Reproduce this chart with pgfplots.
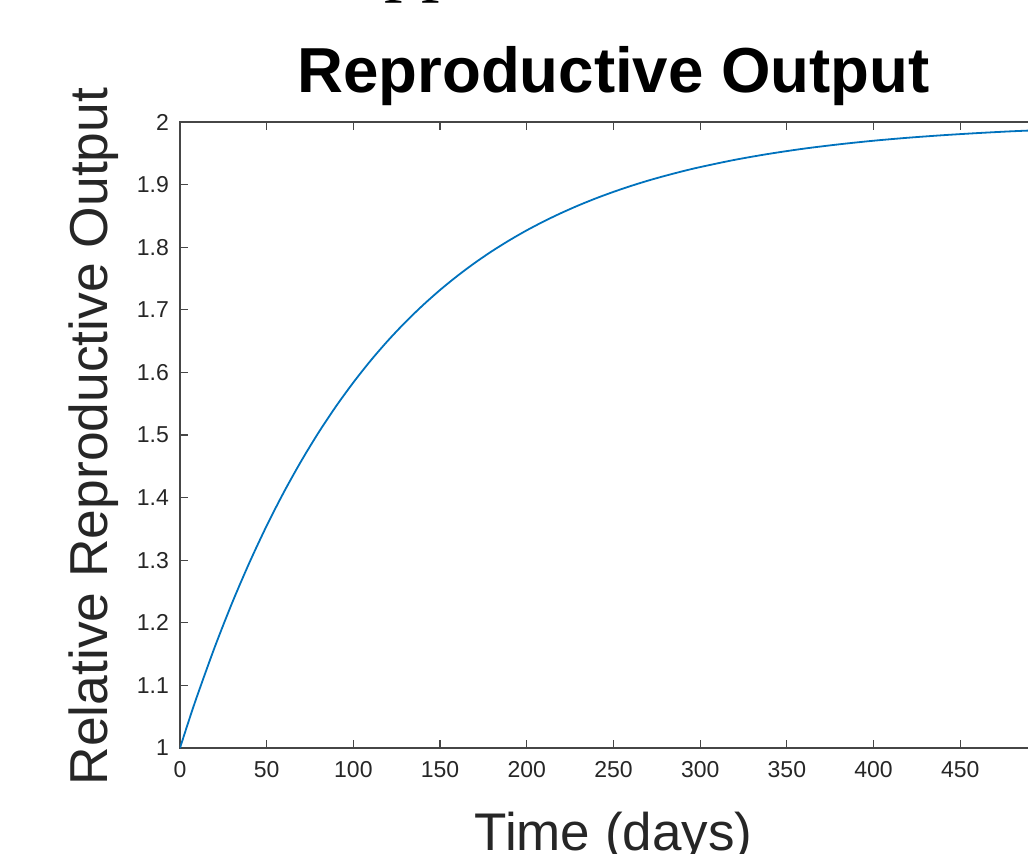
\documentclass[border=0pt]{standalone}
\usepackage{pgfplots}
\pgfplotsset{compat=1.18}
\usepackage{fontspec}
\setmainfont{Liberation Sans}
\newfontfamily\serifpart{Liberation Serif}
\definecolor{mblue}{RGB}{0,114,189}
\definecolor{mgray}{RGB}{38,38,38}
\definecolor{axgray}{RGB}{70,70,70}
\begin{document}
\begin{tikzpicture}
\useasboundingbox (-90pt,-52.5pt) rectangle (424pt,374pt);
\clip (-90pt,-52.5pt) rectangle (424pt,374pt);
\begin{axis}[
  at={(0pt,0pt)}, anchor=south west,
  scale only axis, width=433.5pt, height=313pt,
  xmin=0, xmax=500, ymin=1, ymax=2,
  xtick={0,50,100,150,200,250,300,350,400,450,500},
  ytick={1,1.1,1.2,1.3,1.4,1.5,1.6,1.7,1.8,1.9,2},
  /pgf/number format/assume math mode=true,
  yticklabel style={/pgf/number format/fixed, /pgf/number format/precision=1, xshift=-2pt},
  xticklabel style={yshift=-3pt},
  ticklabel style={font=\fontsize{11.5}{13}\selectfont, text=mgray},
  tick align=inside,
  major tick length=4pt,
  tick style={color=axgray, line width=0.6pt},
  axis line style={color=axgray, line width=0.6pt},
  axis on top=false,
]
\addplot[color=mblue, line width=0.9pt, smooth] coordinates {
(0,1.0000) (5,1.0429) (10,1.0840) (20,1.1609) (30,1.2314) (40,1.2959)
(50,1.3551) (60,1.4092) (70,1.4588) (80,1.5043) (90,1.5459)
(100,1.5840) (110,1.6190) (120,1.6510) (130,1.6803) (140,1.7071)
(150,1.7317) (160,1.7542) (170,1.7749) (180,1.7938) (190,1.8111)
(200,1.8270) (210,1.8415) (220,1.8548) (230,1.8670) (240,1.8782)
(250,1.8884) (260,1.8978) (270,1.9064) (280,1.9142) (290,1.9214)
(300,1.9280) (320,1.9396) (340,1.9493) (360,1.9575) (380,1.9643)
(400,1.9701) (420,1.9749) (440,1.9789) (460,1.9823) (480,1.9852)
(500,1.9875)
};
\end{axis}
\node[anchor=base, font=\fontsize{31.8}{36}\selectfont\bfseries, text=black, inner sep=0pt] at (216.75pt,327.5pt) {Reproductive Output};
\node[anchor=base, font=\fontsize{26.5}{30}\selectfont, text=mgray, inner sep=0pt] at (216.75pt,-51pt) {Time (days)};
\node[anchor=base, rotate=90, font=\fontsize{26.7}{30}\selectfont, text=mgray, inner sep=0pt] at (-36pt,155.75pt) {Relative Reproductive Output};
\node[anchor=base west, font=\serifpart\fontsize{37}{40}\selectfont, text=black, inner sep=0pt] at (102pt,380pt) {pp};
\end{tikzpicture}
\end{document}
